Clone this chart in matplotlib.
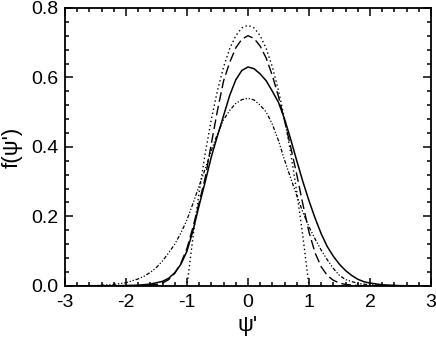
import matplotlib.pyplot as plt
from matplotlib.ticker import MultipleLocator

plt.rcParams['font.family'] = ['Liberation Sans', 'DejaVu Sans']
plt.rcParams['axes.unicode_minus'] = False

# solid curve
x_solid = [-3.0, -2.2, -1.8, -1.6, -1.4, -1.3, -1.2, -1.1, -1.0, -0.9, -0.8, -0.7,
           -0.6, -0.5, -0.4, -0.3, -0.2, -0.1, 0.0, 0.1, 0.2, 0.3, 0.4, 0.5, 0.6,
           0.7, 0.8, 0.9, 1.0, 1.1, 1.2, 1.3, 1.4, 1.5, 1.6, 1.7, 1.8, 1.9, 2.0,
           2.2, 2.5, 3.0]
y_solid = [0.0, 0.0, 0.002, 0.005, 0.013, 0.022, 0.038, 0.062, 0.10, 0.16, 0.232, 0.30,
           0.372, 0.432, 0.49, 0.548, 0.593, 0.62, 0.63, 0.625, 0.61, 0.59, 0.56, 0.528, 0.48,
           0.422, 0.36, 0.30, 0.245, 0.195, 0.15, 0.113, 0.085, 0.062, 0.044, 0.03, 0.019, 0.012, 0.008,
           0.003, 0.0005, 0.0]

# dashed curve
x_dash = [-3.0, -2.0, -1.7, -1.5, -1.4, -1.3, -1.2, -1.1, -1.0, -0.9, -0.8, -0.7,
          -0.6, -0.5, -0.4, -0.3, -0.2, -0.1, 0.0, 0.1, 0.2, 0.3, 0.4, 0.5, 0.6,
          0.7, 0.8, 0.9, 1.0, 1.1, 1.2, 1.3, 1.4, 1.5, 1.6, 1.8, 2.0, 3.0]
y_dash = [0.0, 0.0, 0.001, 0.004, 0.008, 0.018, 0.036, 0.065, 0.108, 0.17, 0.24, 0.312,
          0.41, 0.505, 0.59, 0.643, 0.685, 0.71, 0.72, 0.712, 0.69, 0.655, 0.605, 0.545, 0.475,
          0.40, 0.32, 0.235, 0.155, 0.095, 0.055, 0.03, 0.016, 0.008, 0.004, 0.001, 0.0, 0.0]

# dotted curve
x_dot = [-3.0, -1.0, -0.9, -0.8, -0.7, -0.6, -0.5, -0.4, -0.3, -0.2, -0.1, 0.0,
         0.1, 0.2, 0.3, 0.4, 0.5, 0.6, 0.7, 0.8, 0.9, 1.0, 3.0]
y_dot = [0.0, 0.0, 0.1425, 0.27, 0.3825, 0.48, 0.5625, 0.63, 0.6825, 0.72, 0.7425, 0.75,
         0.7425, 0.72, 0.6825, 0.63, 0.5625, 0.48, 0.3825, 0.27, 0.1425, 0.0, 0.0]

# dash-dot-dot curve
x_dd = [-3.0, -2.5, -2.2, -2.0, -1.8, -1.7, -1.6, -1.5, -1.4, -1.3, -1.2, -1.1, -1.0,
        -0.9, -0.8, -0.7, -0.6, -0.5, -0.4, -0.3, -0.2, -0.1, 0.0, 0.1, 0.2, 0.3,
        0.4, 0.5, 0.6, 0.7, 0.8, 0.9, 1.0, 1.1, 1.2, 1.3, 1.4, 1.5, 1.6, 1.8, 2.0,
        2.3, 3.0]
y_dd = [0.0, 0.001, 0.004, 0.009, 0.02, 0.028, 0.039, 0.053, 0.072, 0.095, 0.12, 0.152, 0.19,
        0.238, 0.288, 0.337, 0.39, 0.437, 0.478, 0.505, 0.525, 0.536, 0.54, 0.535, 0.52, 0.50,
        0.465, 0.418, 0.362, 0.31, 0.26, 0.212, 0.17, 0.135, 0.103, 0.075, 0.05, 0.03, 0.018, 0.007, 0.003,
        0.001, 0.0]

fig = plt.figure(figsize=(4.36, 3.44), dpi=100)
ax = fig.add_axes([0.149, 0.169, 0.8395, 0.808])

ax.plot(x_solid, y_solid, color='black', lw=1.1, ls='-')
ax.plot(x_dash, y_dash, color='black', lw=1.0, ls=(0, (7, 3)))
ax.plot(x_dot, y_dot, color='black', lw=1.0, ls=(0, (1, 2)))
ax.plot(x_dd, y_dd, color='black', lw=0.9, ls=(0, (3, 1.5, 1, 1.5, 1, 1.5)))

ax.set_xlim(-3, 3)
ax.set_ylim(0, 0.8)
ax.xaxis.set_major_locator(MultipleLocator(1))
ax.xaxis.set_minor_locator(MultipleLocator(0.2))
ax.yaxis.set_major_locator(MultipleLocator(0.2))
ax.yaxis.set_minor_locator(MultipleLocator(0.04))
ax.set_yticklabels(['%.1f' % v for v in ax.get_yticks()])

for s in ax.spines.values():
    s.set_linewidth(1.3)
ax.tick_params(which='both', direction='in', top=True, right=True, width=1.1, labelsize=14)
ax.tick_params(which='major', length=6)
ax.tick_params(which='minor', length=3)
ax.tick_params(axis='x', pad=6)
ax.tick_params(axis='y', pad=5)

ax.set_xlabel("ψ'", fontsize=16, labelpad=3)
ax.set_ylabel("f(ψ')", fontsize=16, labelpad=6)

fig.savefig('out.png', dpi=100)
